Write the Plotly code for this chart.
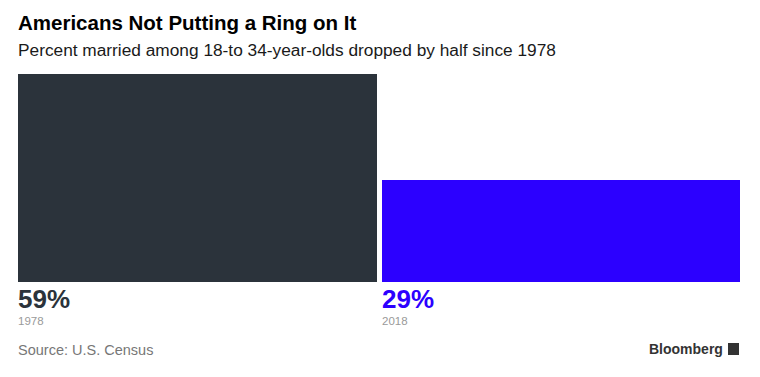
import plotly.graph_objects as go

years = ["1978", "2018"]
values = [59, 29]
colors = ["#2b333b", "#2c00ff"]

w = 0.98625
fig = go.Figure()
fig.add_trace(go.Bar(x=[0, 1], y=values, marker=dict(color=colors, line=dict(width=0)),
                     width=w, hoverinfo="skip"))

for i, (yr, v, c) in enumerate(zip(years, values, colors)):
    fig.add_annotation(x=i - w / 2, y=0, xref="x", yref="y", text=f"<b>{v}%</b>",
                       showarrow=False, xanchor="left", yanchor="top", yshift=0, xshift=-2,
                       font=dict(size=26, color=c, family="Liberation Sans"))
    fig.add_annotation(x=i - w / 2, y=0, xref="x", yref="y", text=yr,
                       showarrow=False, xanchor="left", yanchor="top", yshift=-31, xshift=-2,
                       font=dict(size=11.5, color="#9a9a9a", family="Liberation Sans"))

fig.add_annotation(x=0, y=1, xref="paper", yref="paper", yshift=74 - 22,
                   text="<b>Americans Not Putting a Ring on It</b>",
                   showarrow=False, xanchor="left", yanchor="middle", xshift=-2,
                   font=dict(size=20.5, color="#000000", family="Liberation Sans"))
fig.add_annotation(x=0, y=1, xref="paper", yref="paper", yshift=74 - 50,
                   text="Percent married among 18-to 34-year-olds dropped by half since 1978",
                   showarrow=False, xanchor="left", yanchor="middle", xshift=-2,
                   font=dict(size=17.3, color="#1a1a1a", family="Liberation Sans"))
fig.add_annotation(x=0, y=0, xref="paper", yref="paper", yshift=-(350 - 282),
                   text="Source: U.S. Census", xshift=-2,
                   showarrow=False, xanchor="left", yanchor="middle",
                   font=dict(size=14.5, color="#777777", family="Liberation Sans"))
fig.add_annotation(x=1, y=0, xref="paper", yref="paper", xshift=-15, yshift=-(349 - 282),
                   text="<b>Bloomberg</b>",
                   showarrow=False, xanchor="right", yanchor="middle",
                   font=dict(size=14, color="#333333", family="Liberation Sans"))
fig.add_shape(type="rect", xref="paper", yref="paper", xsizemode="pixel", ysizemode="pixel",
              xanchor=1, yanchor=0, x0=-12, x1=-1, y0=-73, y1=-61,
              fillcolor="#333333", line=dict(width=0))

fig.update_layout(
    width=760, height=377,
    margin=dict(l=18, r=20, t=74, b=95),
    paper_bgcolor="white", plot_bgcolor="white",
    showlegend=False, bargap=0,
    xaxis=dict(range=[-w / 2, 1 + w / 2], visible=False, fixedrange=True),
    yaxis=dict(range=[0, 59], visible=False, fixedrange=True),
    font=dict(family="Liberation Sans"),
)
fig.write_html("out.html", config={"displayModeBar": False},
               post_script="document.body.style.margin='0';")
